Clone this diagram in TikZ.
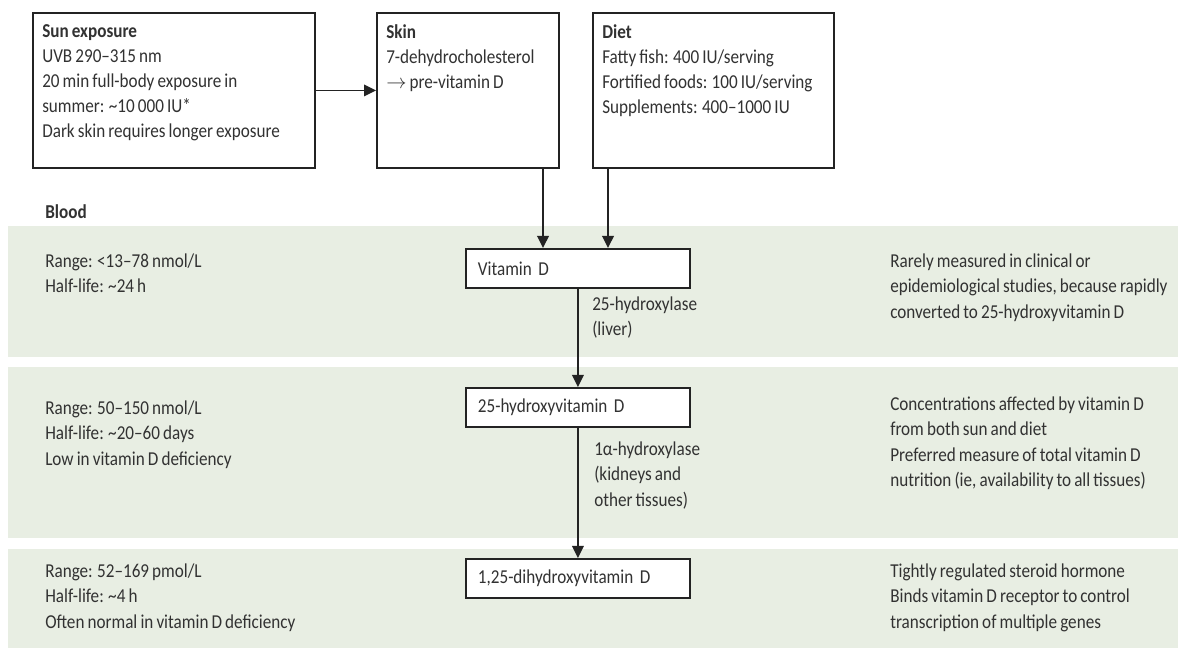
\documentclass[tikz,border=0pt]{standalone}
\usepackage{fontspec}
\setmainfont{Carlito}[FakeStretch=0.87, WordSpace=0.8]
\usepackage{xcolor}
\usepackage{tikz}
\usetikzlibrary{arrows.meta, positioning, calc}
\definecolor{mydark}{RGB}{35,35,35}
\definecolor{mytext}{RGB}{50,50,50}
\definecolor{bandgreen}{RGB}{232,238,227}
\newcommand{\txtsize}{\fontsize{14}{17.8}\selectfont}
\tikzset{
  srcbox/.style={rectangle, draw=mydark, fill=white, line width=1.3pt,
    anchor=north west, minimum height=3.875cm, inner sep=0pt},
  stagebox/.style={rectangle, draw=mydark, fill=white, line width=1.3pt,
    anchor=north west, minimum width=5.6cm, minimum height=0.975cm,
    text width=5.0cm, align=left, inner xsep=0.3cm, inner ysep=0pt, text=mytext},
  txt/.style={anchor=north west, align=left, inner sep=0pt, text=mytext},
  arrow/.style={-{Triangle[length=3mm, width=2.9mm]}, line width=1.1pt, color=mydark}
}

\begin{document}
\begin{tikzpicture}[x=0.025cm, y=-0.025cm, font=\txtsize]
  \useasboundingbox (0,0) rectangle (1178,648);

  % Blood bands
  \fill[bandgreen] (8,226) rectangle (1178,357);
  \fill[bandgreen] (8,367) rectangle (1178,538);
  \fill[bandgreen] (8,549) rectangle (1178,648);

  % Sources
  \node[srcbox, minimum width=7.05cm] (sun) at (32,12) {};
  \node[srcbox, minimum width=4.55cm] (skin) at (376,12) {};
  \node[srcbox, minimum width=6.025cm] (diet) at (592,12) {};
  \node[txt] (suntxt) at (42,24) {\textbf{Sun exposure}\\UVB 290--315 nm\\20 min full-body exposure in\\summer: \textasciitilde10\,000 IU*\\Dark skin requires longer exposure};
  \node[txt] (skintxt) at (386,24) {\textbf{Skin}\\7-dehydrocholesterol\\$\rightarrow$ pre-vitamin D};
  \node[txt] (diettxt) at (602,24) {\textbf{Diet}\\Fatty fish: 400 IU/serving\\Fortified foods: 100 IU/serving\\Supplements: 400--1000 IU};

  \node[txt] (blood) at (45,204) {\textbf{Blood}};

  % Metabolites
  \node[stagebox] (vitd) at (465,248) {Vitamin D};
  \node[stagebox] (hyd) at (465,387) {25-hydroxyvitamin D};
  \node[stagebox] (dihyd) at (465,558) {1,25-dihydroxyvitamin D};

  \node[txt] (enz1) at (592,297) {25-hydroxylase\\(liver)};
  \node[txt] (enz2) at (594,442) {1α-hydroxylase\\(kidneys and\\other tissues)};

  % Left column
  \node[txt] (range1) at (45,254) {Range: <13--78 nmol/L\\Half-life: \textasciitilde24 h};
  \node[txt] (range2) at (45,401) {Range: 50--150 nmol/L\\Half-life: \textasciitilde20--60 days\\Low in vitamin D deficiency};
  \node[txt] (range3) at (45,564) {Range: 52--169 pmol/L\\Half-life: \textasciitilde4 h\\Often normal in vitamin D deficiency};

  % Right column
  \node[txt] (note1) at (890,254) {Rarely measured in clinical or\\epidemiological studies, because rapidly\\converted to 25-hydroxyvitamin D};
  \node[txt] (note2) at (890,397) {Concentrations affected by vitamin D\\from both sun and diet\\Preferred measure of total vitamin D\\nutrition (ie, availability to all tissues)};
  \node[txt] (note3) at (890,564) {Tightly regulated steroid hormone\\Binds vitamin D receptor to control\\transcription of multiple genes};

  % Connections
  \coordinate (skinline) at (543,0);
  \coordinate (dietline) at (608,0);
  \draw[arrow] (sun) -- (skin);
  \draw[arrow] (skin.south -| skinline) -- (vitd.north -| skinline);
  \draw[arrow] (diet.south -| dietline) -- (vitd.north -| dietline);
  \draw[arrow] (vitd) -- (hyd);
  \draw[arrow] (hyd) -- (dihyd);
\end{tikzpicture}
\end{document}
